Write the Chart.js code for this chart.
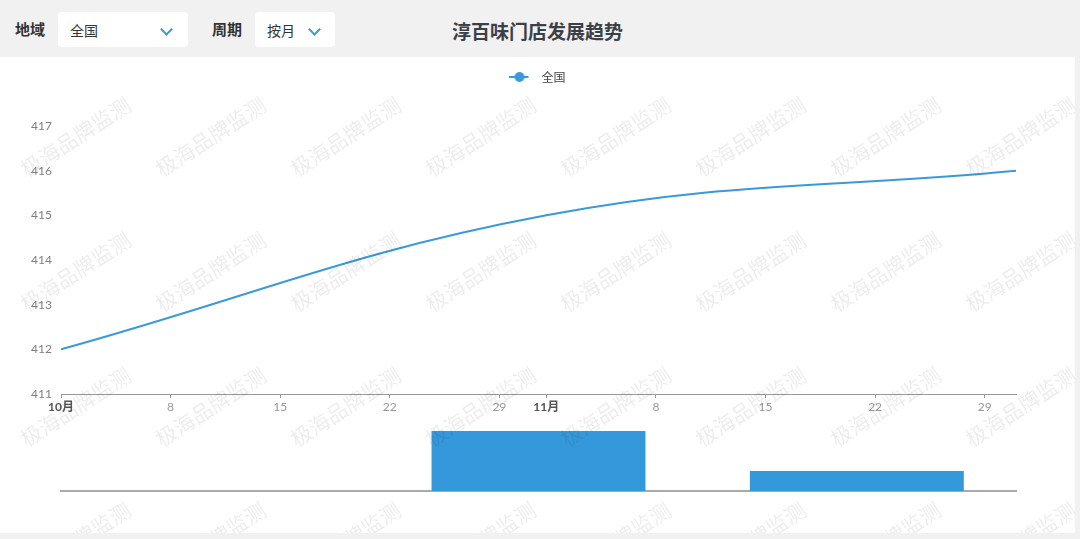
<!DOCTYPE html>
<html>
<head>
<meta charset="utf-8">
<script src="https://cdn.jsdelivr.net/npm/chart.js@4"></script>
<style>
  body { margin: 0; width: 1080px; height: 539px; background: #f1f1f2; overflow: hidden;
         font-family: "Noto Sans CJK SC", "Noto Sans", sans-serif; position: relative; }
  .header { position: absolute; left: 0; top: 0; width: 1080px; height: 57px; }
  .lbl { position: absolute; top: 18px; font-size: 15px; font-weight: bold; color: #333; }
  .sel { position: absolute; top: 12px; height: 35px; background: #fff; border-radius: 4px; }
  .sel span { position: absolute; left: 12px; top: 8px; font-size: 14px; color: #333; }
  .sel i { position: absolute; top: 13px; width: 7px; height: 7px; border-right: 2px solid #3a9ad9;
           border-bottom: 2px solid #3a9ad9; transform: rotate(45deg); }
  .title { position: absolute; left: 452px; top: 17px; font-size: 19px; font-weight: bold; color: #3c4046; }
  .panel { position: absolute; left: 0; top: 57px; width: 1075px; height: 476px; background: #fff; overflow: hidden; }
  #lineWrap { position: absolute; left: 0; top: 0; width: 1075px; height: 363px; }
  #barWrap { position: absolute; left: 0; top: 363px; width: 1075px; height: 113px; }
  .wm { position: absolute; inset: 0; pointer-events: none; }
  .wm div { position: absolute; font-size: 21px; color: rgba(0,0,0,0.075); transform: rotate(-33deg);
            white-space: nowrap; font-family: "Noto Sans CJK SC", sans-serif; }
</style>
</head>
<body>
<div class="header">
  <div class="lbl" style="left:15px">地域</div>
  <div class="sel" style="left:58px;width:130px"><span>全国</span><i style="left:104px"></i></div>
  <div class="lbl" style="left:212px">周期</div>
  <div class="sel" style="left:255px;width:80px"><span>按月</span><i style="left:55px"></i></div>
  <div class="title">淳百味门店发展趋势</div>
</div>
<div class="panel">
  <div id="lineWrap"><canvas id="lineChart"></canvas></div>
  <div id="barWrap"><canvas id="barChart"></canvas></div>
  <div class="wm" id="wm"></div>
</div>
<script>
// store count, days counted from 1 Oct
const lineDays = [0, 31, 61];
const lineValues = [412, 415, 416];
const seriesName = '全国';

// x axis ticks (days from 1 Oct) and their labels
const tickDays = [0, 7, 14, 21, 28, 31, 38, 45, 52, 59];
const tickLabels = ['10月', '8', '15', '22', '29', '11月', '8', '15', '22', '29'];

// monthly change shown in the bar strip
const barMonths = ['10月', '11月', '12月'];
const barValues = [0, 3, 1];

const blue = '#3a9ad9';

// watermark text
const wm = document.getElementById('wm');
for (let r = 0; r < 4; r++) {
  for (let c = 0; c < 8; c++) {
    const d = document.createElement('div');
    d.textContent = '极海品牌监测';
    d.style.left = (12 + c * 135) + 'px';
    d.style.top = (64 + r * 135) + 'px';
    wm.appendChild(d);
  }
}

// legend icon: line with a dot, blank space on the right
const icon = document.createElement('canvas');
icon.width = 26; icon.height = 12;
const ic = icon.getContext('2d');
ic.strokeStyle = blue; ic.lineWidth = 2;
ic.beginPath(); ic.moveTo(0, 6); ic.lineTo(19, 6); ic.stroke();
ic.fillStyle = blue;
ic.beginPath(); ic.arc(10, 6, 5, 0, Math.PI * 2); ic.fill();

// push the plot down below the legend
const legendGap = {
  id: 'legendGap',
  beforeInit: function(chart) {
    const fit = chart.legend.fit;
    chart.legend.fit = function() {
      fit.call(this);
      this.height += 33;
    };
  }
};

document.addEventListener('DOMContentLoaded', function() {
  const lineCtx = document.getElementById('lineChart').getContext('2d');
  new Chart(lineCtx, {
    type: 'line',
    data: {
      datasets: [{
        label: seriesName,
        data: lineDays.map((d, i) => ({ x: d, y: lineValues[i] })),
        borderColor: blue,
        backgroundColor: blue,
        borderWidth: 2,
        pointRadius: 0,
        tension: 0.4
      }]
    },
    options: {
      responsive: true,
      maintainAspectRatio: false,
      animation: false,
      layout: { padding: { top: 4, right: 0, left: 0, bottom: 0 } },
      scales: {
        x: {
          type: 'linear',
          min: 0,
          max: 61,
          afterBuildTicks: function(scale) {
            scale.ticks = tickDays.map(v => ({ value: v }));
          },
          afterFit: function(scale) { scale.height = 26; },
          ticks: {
            autoSkip: false,
            maxRotation: 0,
            padding: 2,
            color: function(ctx) {
              return ctx.tick && String(ctx.tick.label).includes('月') ? '#555' : '#999';
            },
            font: function(ctx) {
              const bold = ctx.tick && String(ctx.tick.label).includes('月');
              return { family: 'Lato, "Noto Sans CJK SC"', size: 12, weight: bold ? 'bold' : 'normal' };
            },
            callback: function(v) {
              const i = tickDays.indexOf(v);
              return i >= 0 ? tickLabels[i] : '';
            }
          },
          grid: { display: true, drawOnChartArea: false, drawTicks: true, tickLength: 4, color: '#999' },
          border: { display: true, color: '#999', width: 1 }
        },
        y: {
          min: 411,
          max: 417,
          afterFit: function(scale) { scale.width = 61; },
          ticks: {
            stepSize: 1,
            padding: 9,
            color: '#808080',
            font: { family: 'Lato', size: 12 }
          },
          grid: { display: false, drawTicks: false },
          border: { display: false }
        },
        yRight: {
          position: 'right',
          afterFit: function(scale) { scale.width = 59; },
          ticks: { display: false },
          grid: { display: false, drawTicks: false },
          border: { display: false }
        }
      },
      plugins: {
        legend: {
          position: 'top',
          labels: {
            usePointStyle: true,
            pointStyle: icon,
            pointStyleWidth: 26,
            color: '#444',
            font: { family: '"Noto Sans CJK SC"', size: 12 },
            padding: 10
          }
        },
        tooltip: { enabled: false }
      }
    },
    plugins: [legendGap]
  });

  const barCtx = document.getElementById('barChart').getContext('2d');
  new Chart(barCtx, {
    type: 'bar',
    data: {
      labels: barMonths,
      datasets: [{
        data: barValues,
        backgroundColor: '#3498db',
        categoryPercentage: 1,
        barPercentage: 0.672
      }]
    },
    options: {
      responsive: true,
      maintainAspectRatio: false,
      animation: false,
      layout: { padding: { top: 11, right: 59, left: 61, bottom: 0 } },
      scales: {
        x: {
          afterFit: function(scale) { scale.height = 42; },
          ticks: { display: false },
          grid: { display: false },
          border: { display: true, color: '#aaa', width: 2 }
        },
        y: { display: false, min: 0, max: 3 }
      },
      plugins: { legend: { display: false }, tooltip: { enabled: false } }
    }
  });
});
</script>
</body>
</html>
